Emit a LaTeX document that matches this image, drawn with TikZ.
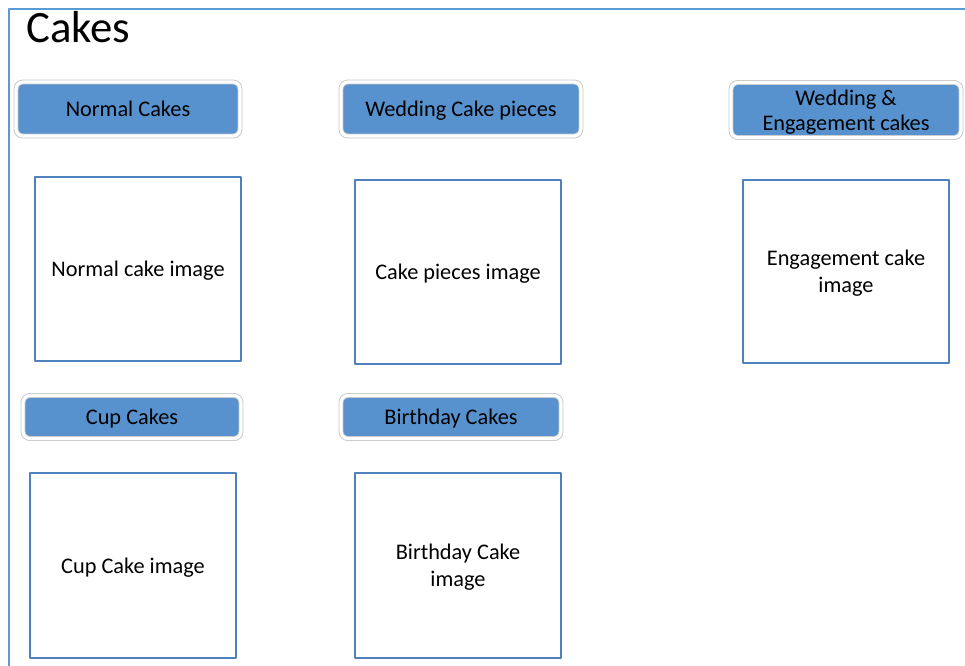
\documentclass[tikz,border=0pt]{standalone}
\usepackage{fontspec}
\setmainfont{Carlito}
\usetikzlibrary{positioning,calc,shadows}

\begin{document}
\begin{tikzpicture}[x=0.02cm,y=-0.02cm,line cap=round,line join=round]
	\definecolor{frameblue}{HTML}{5B9BD5}
	\definecolor{btnblue}{HTML}{5792CF}
	\definecolor{boxblue}{HTML}{4F81BD}
	\tikzset{
		catbtn/.style={draw=gray!45, line width=0.5pt, double=white, double distance=1.8pt,
			fill=btnblue, rounded corners=4pt,
			font=\fontsize{12.7}{14.5}\selectfont, align=center, inner sep=0pt, text depth=0pt,
			drop shadow={opacity=0.3, shadow xshift=0.8pt, shadow yshift=-1.2pt}},
		imgbox/.style={draw=boxblue, line width=0.6pt, fill=white,
			font=\fontsize{12.7}{15.5}\selectfont, align=center, inner sep=0pt, text depth=0pt},
	}
	
	% page size
	\useasboundingbox (0,0) rectangle (965,666);
	
	% frame
	\draw[frameblue,line width=1pt] (9,666) -- (9,9) -- (965,9);
	
	% title
	\node[anchor=base west, font=\fontsize{25.5}{30}\selectfont, inner sep=0pt] (title) at (26,43) {Cakes};
	
	% category buttons
	\foreach \nm/\xx/\yy/\ww/\hh/\lab in {
		normbtn/128/109/224/54/{Normal Cakes},
		piecebtn/461/109/240/54/{Wedding Cake pieces},
		engbtn/846/110/230/55/{Wedding \&\\Engagement cakes},
		cupbtn/132/417/218/43/{Cup Cakes},
		bdaybtn/451/417/220/43/{Birthday Cakes}}{
		\node[catbtn, minimum width=\ww*0.02cm, minimum height=\hh*0.02cm] (\nm) at (\xx,\yy) {\lab};
	}
	
	% image placeholders
	\foreach \nm/\xx/\yy/\hh/\lab in {
		normimg/138/269/184/{Normal cake image},
		pieceimg/458/272/184/{Cake pieces image},
		engimg/846/271.5/183/{Engagement cake\\image},
		cupimg/133/565.5/185/{Cup Cake image},
		bdayimg/458/565.5/185/{Birthday Cake\\image}}{
		\node[imgbox, minimum width=206*0.02cm, minimum height=\hh*0.02cm] (\nm) at (\xx,\yy) {\lab};
	}
\end{tikzpicture}
\end{document}
